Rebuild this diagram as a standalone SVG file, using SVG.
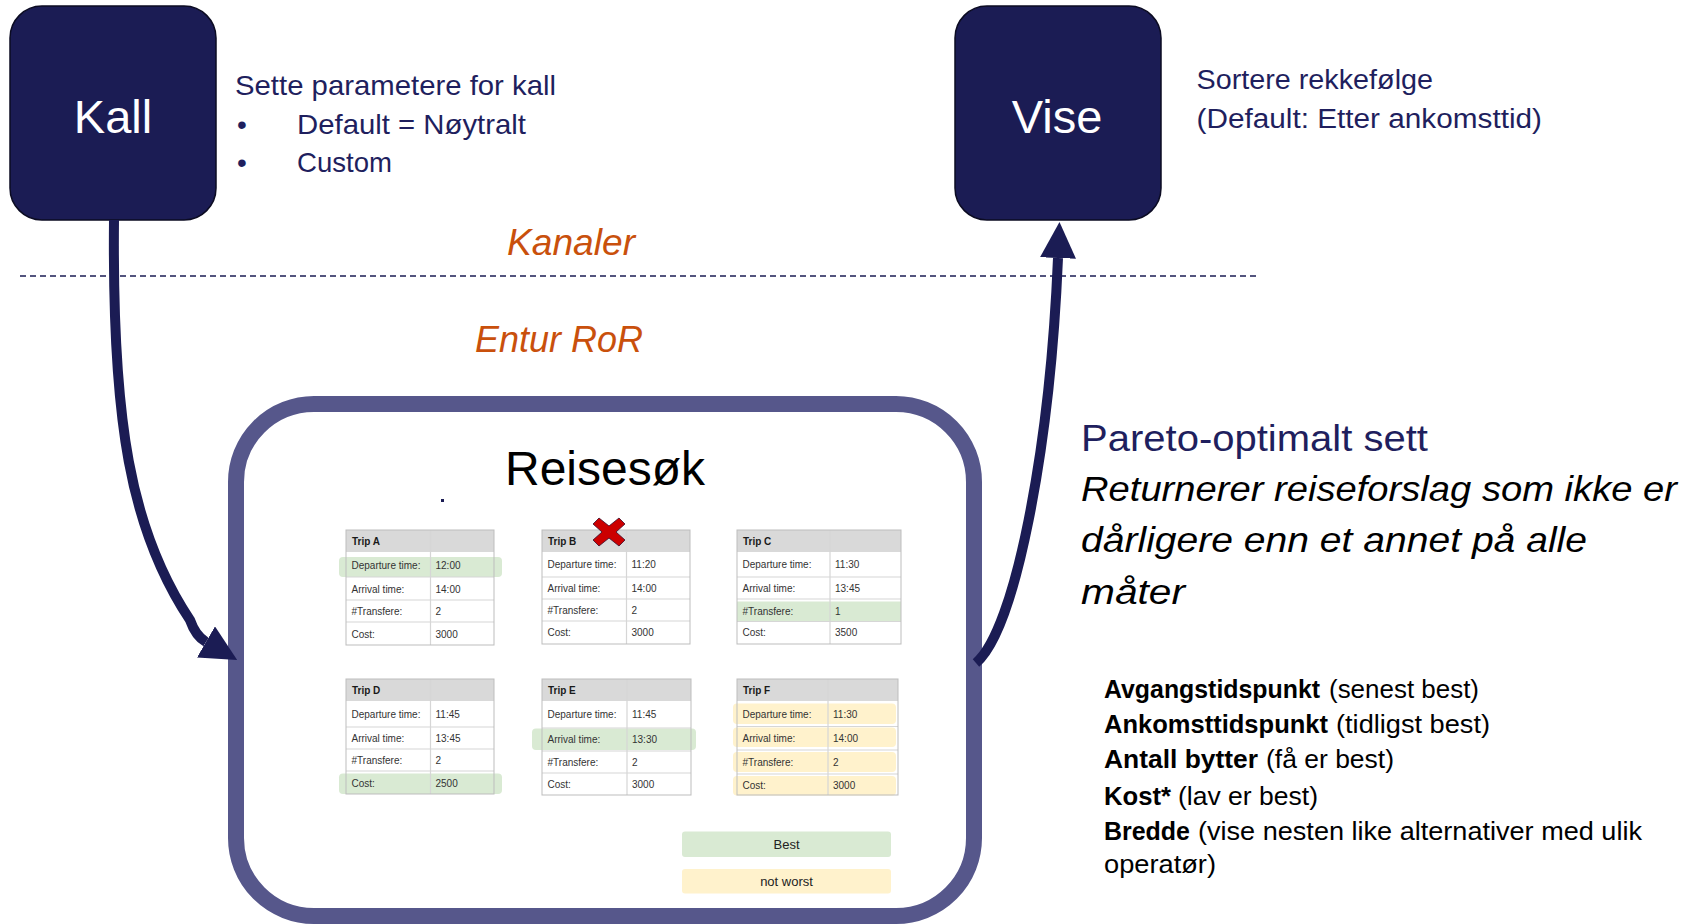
<svg xmlns="http://www.w3.org/2000/svg" width="1685" height="924" viewBox="0 0 1685 924">
<defs>
<style>
.box{fill:#1b1c54;stroke:#0b0b22;stroke-width:1.5}
.boxlabel{font-family:"Liberation Sans",Arial,sans-serif;font-size:47px;fill:#ffffff;text-anchor:middle}
.note{font-family:"Liberation Sans",Arial,sans-serif;fill:#1f1f5e}
.orange{font-family:"Liberation Sans",Arial,sans-serif;font-style:italic;font-size:37px;fill:#c9500c}
.blk{font-family:"Liberation Sans",Arial,sans-serif;fill:#000000}
.tbl text{font-family:"Liberation Sans",Arial,sans-serif;font-size:10px;fill:#333333}
.tbl text.h{font-weight:bold;fill:#1a1a1a}
.bg{fill:#ffffff}
.hdr{fill:#d9d9d9}
.outer{fill:none;stroke:#bdbdbd;stroke-width:1}
.line{stroke:#d6d6d6;stroke-width:1.2}
.g{fill:#d9ead3}
.y{fill:#fff2cc}
.conn{fill:none;stroke:#1b1c54;stroke-width:10}
</style>
<marker id="ah" markerUnits="userSpaceOnUse" markerWidth="36" markerHeight="36" viewBox="0 0 36 36" refX="0" refY="18" orient="auto">
<path d="M0,0 L36,18 L0,36 z" fill="#1b1c54"/>
</marker>
</defs>
<rect width="1685" height="924" fill="#ffffff"/>

<g id="kall">
<rect class="box" x="10" y="6" width="206" height="214" rx="32"/>
<text class="boxlabel" x="113" y="133">Kall</text>
</g>
<g id="kall-note" class="note">
<text x="235" y="95" font-size="28" textLength="321" lengthAdjust="spacingAndGlyphs">Sette parametere for kall</text>
<text x="237" y="134" font-size="28">•</text>
<text x="297" y="134" font-size="28" textLength="229" lengthAdjust="spacingAndGlyphs">Default = Nøytralt</text>
<text x="237" y="172" font-size="28">•</text>
<text x="297" y="172" font-size="28" textLength="95" lengthAdjust="spacingAndGlyphs">Custom</text>
</g>

<g id="vise">
<rect class="box" x="955" y="6" width="206" height="214" rx="32"/>
<text class="boxlabel" x="1057" y="133">Vise</text>
</g>
<g id="vise-note" class="note">
<text x="1196.5" y="89" font-size="27" textLength="236.5" lengthAdjust="spacingAndGlyphs">Sortere rekkefølge</text>
<text x="1196.5" y="128" font-size="27" textLength="345.5" lengthAdjust="spacingAndGlyphs">(Default: Etter ankomsttid)</text>
</g>

<g id="kanaler">
<text class="orange" x="507" y="255" textLength="128" lengthAdjust="spacingAndGlyphs">Kanaler</text>
</g>
<line x1="20" y1="276" x2="1258" y2="276" stroke="#1b1c54" stroke-width="1.3" stroke-dasharray="6 4"/>
<g id="entur">
<text class="orange" x="475" y="352" textLength="168" lengthAdjust="spacingAndGlyphs">Entur RoR</text>
</g>

<g id="reisesok">
<rect x="236" y="404" width="738" height="512" rx="78" fill="#ffffff" stroke="#56578b" stroke-width="16"/>
<text class="blk" x="605" y="485" font-size="48" text-anchor="middle">Reisesøk</text>
<rect x="441" y="499" width="3" height="3" fill="#1b1c54"/>

<g id="tripA" class="tbl" transform="translate(346,530)">
<rect class="bg" x="0" y="0" width="148" height="115"/>
<rect class="hdr" x="0" y="0" width="148" height="22"/>
<rect class="g" x="-7" y="27" width="163" height="20" rx="4"/>
<line class="line" x1="0" y1="47" x2="148" y2="47"/><line class="line" x1="0" y1="70" x2="148" y2="70"/><line class="line" x1="0" y1="92" x2="148" y2="92"/>
<line class="line" x1="84.5" y1="0" x2="84.5" y2="115"/>
<rect class="outer" x="0" y="0" width="148" height="115"/>
<text class="h" x="6" y="15">Trip A</text>
<text x="5.5" y="38.5">Departure time:</text><text x="89.5" y="38.5">12:00</text>
<text x="5.5" y="62.5">Arrival time:</text><text x="89.5" y="62.5">14:00</text>
<text x="5.5" y="85">#Transfere:</text><text x="89.5" y="85">2</text>
<text x="5.5" y="107.5">Cost:</text><text x="89.5" y="107.5">3000</text>
</g>

<g id="tripB" class="tbl" transform="translate(542,530)">
<rect class="bg" x="0" y="0" width="148" height="114"/>
<rect class="hdr" x="0" y="0" width="148" height="22"/>
<line class="line" x1="0" y1="47" x2="148" y2="47"/><line class="line" x1="0" y1="69" x2="148" y2="69"/><line class="line" x1="0" y1="91" x2="148" y2="91"/>
<line class="line" x1="84.5" y1="0" x2="84.5" y2="114"/>
<rect class="outer" x="0" y="0" width="148" height="114"/>
<text class="h" x="6" y="15">Trip B</text>
<text x="5.5" y="38">Departure time:</text><text x="89.5" y="38">11:20</text>
<text x="5.5" y="61.5">Arrival time:</text><text x="89.5" y="61.5">14:00</text>
<text x="5.5" y="83.5">#Transfere:</text><text x="89.5" y="83.5">2</text>
<text x="5.5" y="106">Cost:</text><text x="89.5" y="106">3000</text>
</g>

<g id="tripC" class="tbl" transform="translate(737,530)">
<rect class="bg" x="0" y="0" width="164" height="114"/>
<rect class="hdr" x="0" y="0" width="164" height="22"/>
<rect class="g" x="0" y="71.5" width="164" height="20"/>
<line class="line" x1="0" y1="47" x2="164" y2="47"/><line class="line" x1="0" y1="69" x2="164" y2="69"/><line class="line" x1="0" y1="91.5" x2="164" y2="91.5"/>
<line class="line" x1="93" y1="0" x2="93" y2="114"/>
<rect class="outer" x="0" y="0" width="164" height="114"/>
<text class="h" x="6" y="15">Trip C</text>
<text x="5.5" y="38">Departure time:</text><text x="98" y="38">11:30</text>
<text x="5.5" y="61.5">Arrival time:</text><text x="98" y="61.5">13:45</text>
<text x="5.5" y="84.5">#Transfere:</text><text x="98" y="84.5">1</text>
<text x="5.5" y="106">Cost:</text><text x="98" y="106">3500</text>
</g>

<g id="tripD" class="tbl" transform="translate(346,679)">
<rect class="bg" x="0" y="0" width="148" height="115"/>
<rect class="hdr" x="0" y="0" width="148" height="22"/>
<rect class="g" x="-7" y="94.5" width="163" height="20.5" rx="4"/>
<line class="line" x1="0" y1="48" x2="148" y2="48"/><line class="line" x1="0" y1="70" x2="148" y2="70"/><line class="line" x1="0" y1="92" x2="148" y2="92"/>
<line class="line" x1="84.5" y1="0" x2="84.5" y2="115"/>
<rect class="outer" x="0" y="0" width="148" height="115"/>
<text class="h" x="6" y="15">Trip D</text>
<text x="5.5" y="38.5">Departure time:</text><text x="89.5" y="38.5">11:45</text>
<text x="5.5" y="63">Arrival time:</text><text x="89.5" y="63">13:45</text>
<text x="5.5" y="85">#Transfere:</text><text x="89.5" y="85">2</text>
<text x="5.5" y="108">Cost:</text><text x="89.5" y="108">2500</text>
</g>

<g id="tripE" class="tbl" transform="translate(542,679)">
<rect class="bg" x="0" y="0" width="149" height="116"/>
<rect class="hdr" x="0" y="0" width="149" height="22"/>
<rect class="g" x="-10" y="49.5" width="164" height="21.5" rx="4"/>
<line class="line" x1="0" y1="49" x2="149" y2="49"/><line class="line" x1="0" y1="72" x2="149" y2="72"/><line class="line" x1="0" y1="94" x2="149" y2="94"/>
<line class="line" x1="85" y1="0" x2="85" y2="116"/>
<rect class="outer" x="0" y="0" width="149" height="116"/>
<text class="h" x="6" y="15">Trip E</text>
<text x="5.5" y="38.5">Departure time:</text><text x="90" y="38.5">11:45</text>
<text x="5.5" y="64">Arrival time:</text><text x="90" y="64">13:30</text>
<text x="5.5" y="86.5">#Transfere:</text><text x="90" y="86.5">2</text>
<text x="5.5" y="109">Cost:</text><text x="90" y="109">3000</text>
</g>

<g id="tripF" class="tbl" transform="translate(737,679)">
<rect class="bg" x="0" y="0" width="161" height="116"/>
<rect class="hdr" x="0" y="0" width="161" height="22"/>
<rect class="y" x="-4" y="24.5" width="163" height="20.5" rx="4"/>
<rect class="y" x="-4" y="48.5" width="163" height="19.5" rx="4"/>
<rect class="y" x="-4" y="73" width="163" height="20" rx="4"/>
<rect class="y" x="-4" y="97" width="163" height="19.5" rx="4"/>
<line class="line" x1="0" y1="47.5" x2="161" y2="47.5"/><line class="line" x1="0" y1="71" x2="161" y2="71"/><line class="line" x1="0" y1="95" x2="161" y2="95"/>
<line class="line" x1="91" y1="0" x2="91" y2="116"/>
<rect class="outer" x="0" y="0" width="161" height="116"/>
<text class="h" x="6" y="15">Trip F</text>
<text x="5.5" y="38.5">Departure time:</text><text x="96" y="38.5">11:30</text>
<text x="5.5" y="63">Arrival time:</text><text x="96" y="63">14:00</text>
<text x="5.5" y="86.5">#Transfere:</text><text x="96" y="86.5">2</text>
<text x="5.5" y="110">Cost:</text><text x="96" y="110">3000</text>
</g>

<g id="cross" transform="translate(609,532)">
<polygon points="-16,-8 -10,-14 0,-6 10,-14 16,-8 7,0 16,8 10,14 0,6 -10,14 -16,8 -7,0" fill="#cc0000" stroke="#3a0a2a" stroke-width="0.8" stroke-linejoin="round"/>
</g>

<g id="legend-best">
<rect x="682" y="831.5" width="209" height="25.5" rx="3" fill="#d9ead3"/>
<text x="786.5" y="849" font-family="Liberation Sans, Arial, sans-serif" font-size="13" fill="#222" text-anchor="middle">Best</text>
</g>
<g id="legend-notworst">
<rect x="682" y="869" width="209" height="24.5" rx="3" fill="#fff2cc"/>
<text x="786.5" y="886" font-family="Liberation Sans, Arial, sans-serif" font-size="13" fill="#222" text-anchor="middle">not worst</text>
</g>
</g>

<g id="connectors">
<path class="conn" d="M 114 220 C 112 420, 130 530, 190 620 Q 195.6 636 206 642" marker-end="url(#ah)"/>
<path class="conn" d="M 976 663 C 1015 630, 1050 450, 1058 258" marker-end="url(#ah)"/>
</g>

<g id="pareto">
<text class="note" x="1081" y="451" font-size="36" textLength="347" lengthAdjust="spacingAndGlyphs">Pareto-optimalt sett</text>
<text class="blk" x="1081" y="501" font-size="35" font-style="italic" textLength="596" lengthAdjust="spacingAndGlyphs">Returnerer reiseforslag som ikke er</text>
<text class="blk" x="1081" y="552" font-size="35" font-style="italic" textLength="506" lengthAdjust="spacingAndGlyphs">dårligere enn et annet på alle</text>
<text class="blk" x="1081" y="604" font-size="35" font-style="italic" textLength="104" lengthAdjust="spacingAndGlyphs">måter</text>
</g>

<g id="criteria" class="blk" font-size="25">
<text x="1104" y="698" font-weight="bold" textLength="216" lengthAdjust="spacingAndGlyphs">Avgangstidspunkt</text>
<text x="1329" y="698" textLength="150" lengthAdjust="spacingAndGlyphs">(senest best)</text>
<text x="1104" y="733" font-weight="bold" textLength="224" lengthAdjust="spacingAndGlyphs">Ankomsttidspunkt</text>
<text x="1336" y="733" textLength="154" lengthAdjust="spacingAndGlyphs">(tidligst best)</text>
<text x="1104" y="768" font-weight="bold" textLength="154" lengthAdjust="spacingAndGlyphs">Antall bytter</text>
<text x="1266" y="768" textLength="128" lengthAdjust="spacingAndGlyphs">(få er best)</text>
<text x="1104" y="805" font-weight="bold" textLength="67" lengthAdjust="spacingAndGlyphs">Kost*</text>
<text x="1178" y="805" textLength="140" lengthAdjust="spacingAndGlyphs">(lav er best)</text>
<text x="1104" y="840" font-weight="bold" textLength="86" lengthAdjust="spacingAndGlyphs">Bredde</text>
<text x="1198" y="840" textLength="444" lengthAdjust="spacingAndGlyphs">(vise nesten like alternativer med ulik</text>
<text x="1104" y="873" textLength="112" lengthAdjust="spacingAndGlyphs">operatør)</text>
</g>
</svg>
